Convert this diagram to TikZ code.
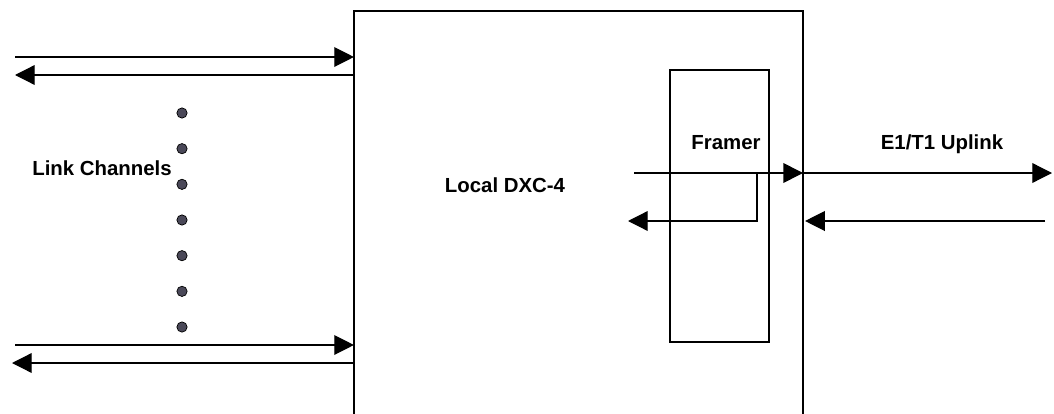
\documentclass[tikz,border=0pt]{standalone}
\usepackage{fontspec}
\setmainfont{Liberation Sans}
\usetikzlibrary{arrows.meta,positioning,calc}
\definecolor{dotgrey}{RGB}{74,72,88}

\begin{document}
\begin{tikzpicture}[x=0.025cm,y=-0.025cm,line width=0.9pt,
  blk/.style={draw=black,inner sep=0pt,outer sep=0pt},
  lbl/.style={font=\fontsize{14.5}{17}\selectfont\bfseries,inner sep=0pt,anchor=base},
  dotnode/.style={circle,draw=black,fill=dotgrey,line width=0.5pt,minimum size=7.3pt,inner sep=0pt},
  arr/.style={-{Triangle[length=14pt,width=14pt]}}]
  \clip (0,0) rectangle (1054,414);
  \node[blk,minimum width=11.225cm,minimum height=10.725cm] (dxc) at (578.5,225.5) {};
  \node[blk,minimum width=2.475cm,minimum height=6.8cm] (framer) at (719.5,206) {};
  \node[lbl] (dxclbl) at (505,192) {Local DXC-4};
  \node[lbl] (framerlbl) at (726,149) {Framer};
  \node[lbl] (uplbl) at (942,149) {E1/T1 Uplink};
  \node[lbl] (linklbl) at (102,175) {Link Channels};
  \foreach \i in {0,...,6}
    \node[dotnode] (dot\i) at (182,113+35.67*\i) {};
  % link channels
  \coordinate (ain) at (15,57);  \coordinate (aout) at (15,75);
  \coordinate (bin) at (15,345); \coordinate (bout) at (12,363);
  \draw[arr] (ain) -- (ain -| dxc.west);
  \draw[arr] (aout -| dxc.west) -- (aout);
  \draw[arr] (bin) -- (bin -| dxc.west);
  \draw[arr] (bout -| dxc.west) -- (bout);
  % uplink side
  \coordinate (fin) at (634,173);  \coordinate (fout) at (628,221);
  \coordinate (fturn) at (757,173);
  \coordinate (uout) at (1052,173); \coordinate (uin) at (1045,221);
  \draw[arr] (fin) -- (fin -| dxc.east);
  \draw[arr] (fin -| dxc.east) -- (uout);
  \draw[arr] (uin) -- ($(uin -| dxc.east)+(2,0)$);
  \draw[arr] (fturn) |- (fout);
\end{tikzpicture}
\end{document}
